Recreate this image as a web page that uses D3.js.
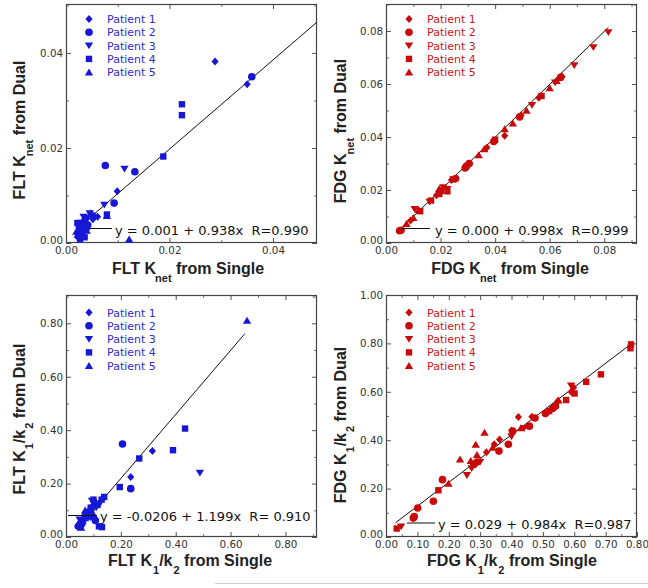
<!DOCTYPE html>
<html><head><meta charset="utf-8">
<script src="https://cdn.jsdelivr.net/npm/d3@7"></script>
<style>
html,body{margin:0;padding:0;background:#fff;}
svg{display:block;}
</style></head>
<body>
<svg id="chart" width="648" height="588"></svg>
<script>
// ---------- DATA ----------
const patients = ["Patient 1", "Patient 2", "Patient 3", "Patient 4", "Patient 5"];
const patientShapes = ["diamond", "circle", "triangleDown", "square", "triangleUp"];

// [single, dual, patientIndex]
const fltKnet = [
  [0.0288,0.0382,0],[0.0350,0.0334,0],[0.0099,0.0109,0],[0.0061,0.0055,0],[0.0048,0.0062,0],[0.0038,0.0042,0],[0.0030,0.0025,0],[0.0052,0.0050,0],[0.0026,0.0036,0],
  [0.0359,0.0350,1],[0.0076,0.0163,1],[0.0133,0.0150,1],[0.0093,0.0084,1],[0.0030,0.0032,1],[0.0024,0.0014,1],[0.0036,0.0046,1],[0.0042,0.0038,1],[0.0028,0.0022,1],
  [0.0113,0.0156,2],[0.0074,0.0080,2],[0.0034,0.0055,2],[0.0042,0.0052,2],[0.0028,0.0042,2],[0.0046,0.0062,2],[0.0032,0.0018,2],
  [0.0224,0.0292,3],[0.0224,0.0269,3],[0.0188,0.0182,3],[0.0079,0.0060,3],[0.0025,0.0030,3],[0.0031,0.0020,3],[0.0036,0.0012,3],[0.0022,0.0042,3],[0.0040,0.0033,3],[0.0027,0.0008,3],
  [0.0122,0.0008,4],[0.0079,0.0057,4],[0.0023,0.0017,4],[0.0033,0.0037,4],[0.0040,0.0026,4],[0.0020,0.0024,4],[0.0055,0.0058,4],[0.0035,0.0050,4]
];
const fdgKnet = [
  [0.0435,0.0405,0],[0.0645,0.0628,0],[0.0560,0.0548,0],[0.0495,0.0482,0],[0.0300,0.0295,0],[0.0185,0.0180,0],[0.0090,0.0085,0],[0.0240,0.0238,0],[0.0370,0.0360,0],
  [0.0050,0.0046,1],[0.0055,0.0048,1],[0.0305,0.0300,1],[0.0290,0.0283,1],[0.0490,0.0476,1],[0.0395,0.0383,1],[0.0255,0.0243,1],[0.0200,0.0195,1],[0.0640,0.0625,1],[0.0295,0.0290,1],
  [0.0815,0.0795,2],[0.0760,0.0738,2],[0.0690,0.0670,2],[0.0535,0.0520,2],[0.0105,0.0128,2],[0.0210,0.0210,2],[0.0225,0.0203,2],[0.0620,0.0605,2],[0.0160,0.0155,2],
  [0.0225,0.0195,3],[0.0125,0.0120,3],[0.0245,0.0240,3],[0.0400,0.0390,3],[0.0165,0.0160,3],[0.0570,0.0555,3],[0.0195,0.0185,3],
  [0.0600,0.0585,4],[0.0360,0.0355,4],[0.0340,0.0332,4],[0.0465,0.0452,4],[0.0515,0.0500,4],[0.0100,0.0095,4],[0.0075,0.0072,4],[0.0195,0.0205,4],[0.0435,0.0430,4],[0.0625,0.0612,4],[0.0120,0.0125,4]
];
const fltK1k2 = [
  [0.315,0.322,0],[0.236,0.225,0],[0.100,0.120,0],[0.080,0.090,0],[0.060,0.060,0],[0.120,0.125,0],[0.090,0.075,0],
  [0.206,0.348,1],[0.236,0.181,1],[0.107,0.062,1],[0.050,0.045,1],[0.070,0.080,1],[0.090,0.100,1],[0.045,0.040,1],
  [0.488,0.240,2],[0.060,0.040,2],[0.080,0.070,2],[0.110,0.110,2],[0.095,0.135,2],[0.050,0.065,2],[0.065,0.055,2],
  [0.434,0.406,3],[0.390,0.325,3],[0.267,0.294,3],[0.196,0.187,3],[0.139,0.150,3],[0.131,0.037,3],[0.120,0.040,3],[0.100,0.140,3],[0.090,0.110,3],[0.130,0.140,3],[0.075,0.085,3],[0.115,0.120,3],
  [0.660,0.810,4],[0.045,0.050,4],[0.065,0.075,4],[0.085,0.095,4],[0.110,0.130,4],[0.070,0.100,4],[0.100,0.085,4],[0.055,0.035,4]
];
const fdgK1k2 = [
  [0.598,0.618,0],[0.547,0.561,0],[0.465,0.497,0],[0.422,0.496,0],[0.400,0.440,0],[0.362,0.403,0],[0.345,0.383,0],[0.320,0.350,0],[0.590,0.600,0],
  [0.531,0.531,1],[0.540,0.540,1],[0.508,0.510,1],[0.475,0.492,1],[0.457,0.458,1],[0.404,0.438,1],[0.390,0.383,1],[0.360,0.355,1],[0.290,0.310,1],[0.280,0.300,1],[0.180,0.237,1],[0.151,0.148,1],[0.101,0.120,1],[0.090,0.085,1],[0.087,0.078,1],
  [0.440,0.450,2],[0.400,0.415,2],[0.273,0.283,2],[0.258,0.255,2],[0.048,0.043,2],[0.590,0.625,2],[0.300,0.310,2],
  [0.781,0.796,3],[0.779,0.780,3],[0.685,0.672,3],[0.638,0.641,3],[0.601,0.593,3],[0.574,0.566,3],[0.167,0.193,3],[0.034,0.035,3],[0.520,0.520,3],
  [0.314,0.432,4],[0.286,0.382,4],[0.236,0.321,4],[0.290,0.340,4],[0.199,0.221,4],[0.270,0.315,4],[0.340,0.370,4],[0.550,0.565,4],[0.430,0.450,4]
];

const fltKnetTicks = [0, 0.02, 0.04];
const fdgKnetTicks = [0, 0.02, 0.04, 0.06, 0.08];
const fltK1k2Ticks = [0, 0.2, 0.4, 0.6, 0.8];
const fdgK1k2XTicks = [0, 0.1, 0.2, 0.3, 0.4, 0.5, 0.6, 0.7, 0.8];
const fdgK1k2YTicks = [0, 0.2, 0.4, 0.6, 0.8, 1.0];

const fits = [
  {a: 0.001, b: 0.938, x0: 0.003, x1: 0.0485, text: "y = 0.001 + 0.938x  R=0.990"},
  {a: 0.000, b: 0.998, x0: 0.0048, x1: 0.0815, text: "y = 0.000 + 0.998x  R=0.999"},
  {a: -0.0206, b: 1.199, x0: 0.045, x1: 0.652, text: "y = -0.0206 + 1.199x  R= 0.910"},
  {a: 0.029, b: 0.984, x0: 0.03, x1: 0.78, text: "y = 0.029 + 0.984x  R=0.987"}
];

// ---------- LAYOUT ----------
const BLUE = "#1717d6", BLUE_TXT = "#2d2dcc";
const RED = "#c80a0a", RED_TXT = "#c81a1a";

const panels = [
  {data: fltKnet, box: [66, 4, 251, 239], xd: [0, 0.0485], yd: [0, 0.0503],
   xt: fltKnetTicks, yt: fltKnetTicks, xm: 0.01, ym: 0.01, color: BLUE, tcolor: BLUE_TXT,
   fit: fits[0], tracer: "FLT", q: "net", fitLine: [90, 112, 228.5], fitText: [115, 235],
   legend: [89, 107, 19], xTitle: [188, 274], yTitle: [25, 130]},
  {data: fdgKnet, box: [386, 4, 251, 239], xd: [0, 0.092], yd: [0, 0.0902],
   xt: fdgKnetTicks, yt: fdgKnetTicks, xm: 0.01, ym: 0.01, color: RED, tcolor: RED_TXT,
   fit: fits[1], tracer: "FDG", q: "net", fitLine: [402, 430, 228.5], fitText: [435, 235],
   legend: [409, 427, 19], xTitle: [510, 274], yTitle: [346, 131]},
  {data: fltK1k2, box: [66, 295, 251, 242], xd: [0, 0.915], yd: [0, 0.906],
   xt: fltK1k2Ticks, yt: fltK1k2Ticks, xm: 0.1, ym: 0.1, color: BLUE, tcolor: BLUE_TXT,
   fit: fits[2], tracer: "FLT", q: "k1k2", fitLine: [68, 97, 515.5], fitText: [100, 521],
   legend: [89, 107, 312.5], xTitle: [190, 566], yTitle: [25, 419]},
  {data: fdgK1k2, box: [386, 295, 251, 242], xd: [0, 0.8], yd: [0, 1.0],
   xt: fdgK1k2XTicks, yt: fdgK1k2YTicks, xm: 0.05, ym: 0.1, color: RED, tcolor: RED_TXT,
   fit: fits[3], tracer: "FDG", q: "k1k2", fitLine: [407, 435, 523], fitText: [438, 529],
   legend: [409, 427, 312.5], xTitle: [512, 566], yTitle: [346, 425]}
];

const shapePaths = {
  diamond: "M0,-4L3.6,0L0,4L-3.6,0Z",
  triangleDown: "M-4.2,-3.2L4.2,-3.2L0,3.6Z",
  square: "M-3.2,-3.2H3.2V3.2H-3.2Z",
  triangleUp: "M0,-3.8L4.2,3.2L-4.2,3.2Z"
};
function drawMarker(g, shape, x, y, color) {
  if (shape === "circle") {
    g.append("circle").attr("cx", x).attr("cy", y).attr("r", 3.8).attr("fill", color);
  } else {
    g.append("path").attr("d", shapePaths[shape]).attr("transform", `translate(${x},${y})`).attr("fill", color);
  }
}

function range(a, b, s) { const out = []; for (let v = a; v <= b + 1e-9; v += s) out.push(+v.toFixed(6)); return out; }

const svg = d3.select("#chart");
const fmt = d3.format(".2f");
const TICKFONT = "'DejaVu Sans', sans-serif";
const TITLEFONT = "'Liberation Sans', Arial, Helvetica, sans-serif";

function titleParts(p, side) {
  const end = side === "x" ? " from Single" : " from Dual";
  if (p.q === "net") return [{t: p.tracer + " K"}, {t: "net", sub: true, dx: -1}, {t: end}];
  return [{t: p.tracer + " K"}, {t: "1", sub: true, dx: 1}, {t: "/k"}, {t: "2", sub: true, dx: 1}, {t: end}];
}
function writeTitle(text, parts) {
  let shifted = false;
  parts.forEach(pt => {
    const ts = text.append("tspan").text(pt.t);
    if (pt.sub) { ts.attr("font-size", 11).attr("dy", 8); shifted = true; if (pt.dx) ts.attr("dx", pt.dx); }
    else if (shifted) { ts.attr("dy", -8); shifted = false; }
  });
}

panels.forEach(p => {
  const [L, T, W, H] = p.box;
  const x = d3.scaleLinear().domain(p.xd).range([L, L + W]);
  const y = d3.scaleLinear().domain(p.yd).range([T + H, T]);
  const g = svg.append("g");

  const xMinor = range(0, p.xd[1], p.xm).filter(v => !p.xt.some(t => Math.abs(t - v) < 1e-9));
  const yMinor = range(0, p.yd[1], p.ym).filter(v => !p.yt.some(t => Math.abs(t - v) < 1e-9));

  const axes = [
    [() => d3.axisBottom(x), `translate(0,${T + H})`, p.xt, xMinor, "x"],
    [() => d3.axisTop(x), `translate(0,${T})`, p.xt, xMinor, null],
    [() => d3.axisLeft(y), `translate(${L},0)`, p.yt, yMinor, "y"],
    [() => d3.axisRight(y), `translate(${L + W},0)`, p.yt, yMinor, null]
  ];
  axes.forEach(([mk, tr, major, minor, labels]) => {
    const gm = g.append("g").attr("transform", tr)
      .call(mk().tickValues(major).tickSize(-5).tickPadding(labels === "x" ? 4 : 3).tickFormat(labels ? fmt : ""));
    gm.select(".domain").remove();
    gm.selectAll("line").attr("stroke", "#555");
    gm.selectAll("text").attr("font-family", TICKFONT).attr("font-size", 10.3).attr("fill", "#333");
    if (labels === "y") {
      // lift the zero label slightly so it clears the x-axis zero label
      gm.selectAll(".tick").filter(d => d === 0).select("text").attr("dy", "0.0em");
    }
    const gn = g.append("g").attr("transform", tr)
      .call(mk().tickValues(minor).tickSize(-3).tickFormat(""));
    gn.select(".domain").remove();
    gn.selectAll("line").attr("stroke", "#777");
  });

  g.append("rect").attr("x", L + 0.5).attr("y", T + 0.5).attr("width", W - 1).attr("height", H - 1)
    .attr("fill", "none").attr("stroke", "#444").attr("stroke-width", 1.2);

  // fit line
  g.append("line")
    .attr("x1", x(p.fit.x0)).attr("y1", y(p.fit.a + p.fit.b * p.fit.x0))
    .attr("x2", x(p.fit.x1)).attr("y2", y(p.fit.a + p.fit.b * p.fit.x1))
    .attr("stroke", "#111").attr("stroke-width", 1);

  // points
  const pg = g.append("g");
  p.data.forEach(d => drawMarker(pg, patientShapes[d[2]], x(d[0]), y(d[1]), p.color));

  // fit legend
  g.append("line").attr("x1", p.fitLine[0]).attr("x2", p.fitLine[1]).attr("y1", p.fitLine[2]).attr("y2", p.fitLine[2])
    .attr("stroke", "#111").attr("stroke-width", 1);
  g.append("text").attr("x", p.fitText[0]).attr("y", p.fitText[1]).text(p.fit.text)
    .attr("font-family", TICKFONT).attr("font-size", 13).attr("fill", "#111")
    .style("white-space", "pre").attr("xml:space", "preserve");

  // legend
  patients.forEach((name, i) => {
    const cy = p.legend[2] + i * 13.3;
    drawMarker(g, patientShapes[i], p.legend[0], cy, p.color);
    g.append("text").attr("x", p.legend[1]).attr("y", cy + 4).text(name)
      .attr("font-family", TICKFONT).attr("font-size", 11).attr("fill", p.tcolor);
  });

  // titles
  const xt = g.append("text").attr("x", p.xTitle[0]).attr("y", p.xTitle[1]).attr("text-anchor", "middle")
    .attr("font-family", TITLEFONT).attr("font-weight", "bold").attr("font-size", 16).attr("fill", "#222");
  writeTitle(xt, titleParts(p, "x"));
  const yt = g.append("text").attr("transform", `translate(${p.yTitle[0]},${p.yTitle[1]}) rotate(-90)`)
    .attr("text-anchor", "middle")
    .attr("font-family", TITLEFONT).attr("font-weight", "bold").attr("font-size", 16).attr("fill", "#222");
  writeTitle(yt, titleParts(p, "y"));
});

// faint separator line at bottom
svg.append("line").attr("x1", 215).attr("x2", 648).attr("y1", 583.5).attr("y2", 583.5)
  .attr("stroke", "#cfcfcf").attr("stroke-width", 1);
</script>
</body></html>
